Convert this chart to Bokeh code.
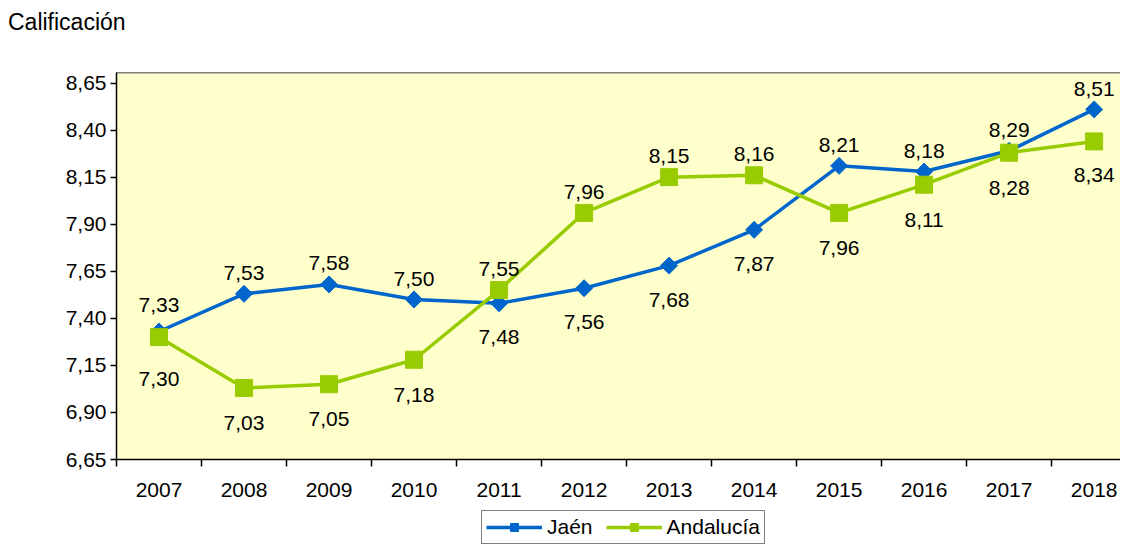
import math
from bokeh.plotting import figure
from bokeh.layouts import column
from bokeh.models import (Range1d, FixedTicker, LinearAxis, CustomJSTickFormatter,
                          Legend, LegendItem, ColumnDataSource, Div)
from bokeh.embed import file_html
from bokeh.resources import INLINE
from bokeh.core.properties import value

# ---- data ----
years = ["2007", "2008", "2009", "2010", "2011", "2012",
         "2013", "2014", "2015", "2016", "2017", "2018"]
jaen = [7.33, 7.53, 7.58, 7.50, 7.48, 7.56, 7.68, 7.87, 8.21, 8.18, 8.29, 8.51]
andalucia = [7.30, 7.03, 7.05, 7.18, 7.55, 7.96, 8.15, 8.16, 7.96, 8.11, 8.28, 8.34]
y_ticks = [6.65, 6.90, 7.15, 7.40, 7.65, 7.90, 8.15, 8.40, 8.65]
series_names = ["Jaén", "Andalucía"]
# label placement (pixel offsets of each data label from its point; negative = above)
jaen_label_off = [-27, -21, -21, -21, 34, 34, 34, 34, -21, -21, -21, -20]
and_label_off = [42, 35, 35, 35, -21, -21, -21, -21, 35, 35, 35, 34]

FONT = "Liberation Sans"
BLUE = "#0066CC"
GREEN = "#99CC00"
W = 1120

xs = list(range(len(years)))


def fmt(v):
    return f"{v:.2f}".replace(".", ",")


jaen_src = ColumnDataSource(dict(x=xs, y=jaen, lab=[fmt(v) for v in jaen], off=jaen_label_off))
and_src = ColumnDataSource(dict(x=xs, y=andalucia, lab=[fmt(v) for v in andalucia], off=and_label_off))

# ---- title strip ----
t = Div(text="Calificación", width=W, height=72, margin=0,
        styles={"font-family": FONT, "font-size": "23px", "line-height": "26px",
                "color": "black", "padding-left": "8px", "padding-top": "9px",
                "box-sizing": "border-box"})

# ---- main chart ----
FRAME_H = 387
p = figure(frame_width=W - 116, frame_height=FRAME_H, output_backend="svg", toolbar_location=None,
           x_range=Range1d(-0.5, 11.31), y_range=Range1d(6.65, 8.706),
           min_border_left=116, min_border_right=0, min_border_top=0,
           min_border_bottom=48, x_axis_type=None, y_axis_type=None)

p.background_fill_color = "#FFFFCC"
p.border_fill_color = "white"
p.outline_line_color = None
p.xgrid.visible = False
p.ygrid.visible = False

top_ax = LinearAxis(ticker=FixedTicker(ticks=[]), axis_line_color="#808080",
                    axis_line_width=2, major_tick_line_color=None,
                    minor_tick_line_color=None, major_label_text_font_size="0px",
                    major_label_standoff=0, major_tick_out=0, major_tick_in=0)
p.add_layout(top_ax, "above")

y_ax = LinearAxis(ticker=FixedTicker(ticks=y_ticks, minor_ticks=[]),
                  formatter=CustomJSTickFormatter(code="return tick.toFixed(2).replace('.', ',');"),
                  axis_line_color="black", axis_line_width=1.5,
                  major_tick_line_color="black", major_tick_line_width=1.5,
                  major_tick_out=6, major_tick_in=0, minor_tick_line_color=None,
                  major_label_text_font=FONT, major_label_text_font_size="21px",
                  major_label_text_color="black", major_label_standoff=4)
p.add_layout(y_ax, "left")

x_ax = LinearAxis(ticker=FixedTicker(ticks=xs, minor_ticks=[i - 0.5 for i in range(len(years) + 1)]),
                  formatter=CustomJSTickFormatter(args=dict(labels=years),
                                                  code="const i = Math.round(tick); return (i >= 0 && i < labels.length) ? labels[i] : '';"),
                  axis_line_color="black", axis_line_width=1.5,
                  major_tick_line_color=None, major_tick_out=7,
                  minor_tick_line_color="black", minor_tick_line_width=1.5,
                  minor_tick_out=7, minor_tick_in=0,
                  major_label_text_font=FONT, major_label_text_font_size="21px",
                  major_label_text_color="black", major_label_standoff=16)
p.add_layout(x_ax, "below")


def draw_series(fig, src, color, marker, angle, size):
    ln = fig.line("x", "y", source=src, line_color=color, line_width=3.5)
    mk = fig.scatter("x", "y", source=src, marker=marker, angle=angle, size=size,
                     fill_color=color, line_color=color)
    return ln, mk


draw_series(p, jaen_src, BLUE, "square", math.pi / 4, 12)
draw_series(p, and_src, GREEN, "square", 0, 17)

for src in (jaen_src, and_src):
    p.text("x", "y", text="lab", source=src, y_offset="off",
           text_align="center", text_baseline="middle",
           text_font=value(FONT), text_font_size="21px", text_color="black")

# ---- legend strip (same series, outside this strip's visible range) ----
lg = figure(width=W, height=37, output_backend="svg", toolbar_location=None,
            min_border=0, x_axis_type=None, y_axis_type=None,
            x_range=Range1d(-0.5, 11.31), y_range=Range1d(0, 1))
lg.outline_line_color = None
lg.xgrid.visible = False
lg.ygrid.visible = False
lg.background_fill_color = "white"
lg.border_fill_color = "white"
k_jl, k_js = draw_series(lg, jaen_src, BLUE, "square", math.pi / 4, 12)
k_al, k_as = draw_series(lg, and_src, GREEN, "square", 0, 17)

legend = Legend(items=[LegendItem(label=series_names[0], renderers=[k_jl, k_js]),
                       LegendItem(label=series_names[1], renderers=[k_al, k_as])],
                orientation="horizontal", location=(365, 0),
                label_text_font=FONT, label_text_font_size="21px",
                label_text_color="black",
                border_line_color="black", border_line_width=1.5,
                background_fill_color="white", background_fill_alpha=1,
                glyph_width=56, glyph_height=20, padding=4, margin=0,
                spacing=13, label_standoff=5)
lg.add_layout(legend, "center")

layout = column(t, p, lg, spacing=0)
open("out.html", "w").write(file_html(layout, INLINE))
